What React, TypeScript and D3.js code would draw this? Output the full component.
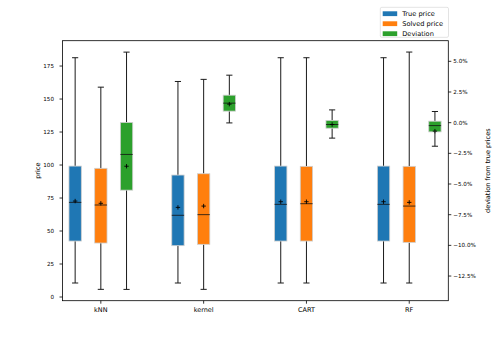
import React from "react";
import * as d3 from "d3";

// box stats per category: [whisker low, q1, median, q3, whisker high, mean]
const categories = ["kNN", "kernel", "CART", "RF"];

const truePrice = [
  [10.6, 42.4, 71.7, 99.2, 181.3, 72.7],
  [10.6, 38.9, 61.9, 92.4, 163.3, 67.9],
  [10.6, 42.4, 70.2, 99.2, 181.3, 72.2],
  [10.6, 42.4, 70.2, 99.2, 181.3, 72.2],
];

const solvedPrice = [
  [5.8, 40.9, 69.7, 97.5, 159.0, 71.0],
  [5.8, 39.9, 62.4, 93.4, 164.9, 68.9],
  [10.6, 42.4, 70.7, 99.0, 181.3, 72.2],
  [10.6, 41.4, 68.9, 99.0, 185.6, 71.7],
];

// deviation in percent (right axis)
const deviation = [
  [-13.59, -5.5, -2.59, 0.02, 5.75, -3.55],
  [-0.02, 0.94, 1.59, 2.24, 3.87, 1.51],
  [-1.26, -0.45, -0.15, 0.18, 1.04, -0.15],
  [-1.92, -0.75, -0.24, 0.12, 0.91, -0.69],
];

const leftTicks = [0, 25, 50, 75, 100, 125, 150, 175];
const rightTicks = [5, 2.5, 0, -2.5, -5, -7.5, -10, -12.5];

const seriesNames = ["True price", "Solved price", "Deviation"];
const colors = ["#1f77b4", "#ff7f0e", "#2ca02c"];

const W = 498, H = 339;
const left = 62.5, right = 448.3, top = 40.7, bottom = 300.7;
const font = "DejaVu Sans";

function Box({ s, cx, y, color, w }: { s: number[]; cx: number; y: d3.ScaleLinear<number, number>; color: string; w: number }) {
  const [lo, q1, med, q3, hi, mean] = s;
  const cap = w / 4;
  const ink = "#1a1a1a";
  return (
    <g>
      <line x1={cx} x2={cx} y1={y(lo)} y2={y(q1)} stroke={ink} strokeWidth={1} />
      <line x1={cx} x2={cx} y1={y(q3)} y2={y(hi)} stroke={ink} strokeWidth={1} />
      <line x1={cx - cap} x2={cx + cap} y1={y(lo)} y2={y(lo)} stroke={ink} strokeWidth={1} />
      <line x1={cx - cap} x2={cx + cap} y1={y(hi)} y2={y(hi)} stroke={ink} strokeWidth={1} />
      <rect x={cx - w / 2} y={y(q3)} width={w} height={y(q1) - y(q3)} fill={color} stroke="#cfcfcf" strokeWidth={0.8} />
      <line x1={cx - w / 2} x2={cx + w / 2} y1={y(med)} y2={y(med)} stroke="#111" strokeWidth={0.8} />
      <line x1={cx - 2.2} x2={cx + 2.2} y1={y(mean)} y2={y(mean)} stroke="#000" strokeWidth={0.9} />
      <line x1={cx} x2={cx} y1={y(mean) - 2.2} y2={y(mean) + 2.2} stroke="#000" strokeWidth={0.9} />
    </g>
  );
}

export default function App() {
  const x = d3.scaleLinear().domain([0.627, 4.38]).range([left, right]);
  const yL = d3.scaleLinear().domain([-2.8, 194.2]).range([bottom, top]);
  const yR = d3.scaleLinear().domain([-14.51, 6.68]).range([bottom, top]);

  const bw = x(1.12) - x(1);
  const pct = (v: number) => (v < 0 ? "\u2212" : "") + d3.format(".1f")(Math.abs(v)) + "%";

  return (
    <svg width={W} height={H} style={{ position: "absolute", left: 0, top: 0 }} fontFamily={font}>
      <rect width={W} height={H} fill="#fff" />

      {categories.map((c, i) => (
        <g key={c}>
          <Box s={truePrice[i]} cx={x(i + 1 - 0.25)} y={yL} color={colors[0]} w={bw} />
          <Box s={solvedPrice[i]} cx={x(i + 1)} y={yL} color={colors[1]} w={bw} />
          <Box s={deviation[i]} cx={x(i + 1 + 0.25)} y={yR} color={colors[2]} w={bw} />
        </g>
      ))}

      <rect x={left} y={top} width={right - left} height={bottom - top} fill="none" stroke="#000" strokeWidth={0.8} />

      {leftTicks.map((t) => (
        <g key={t}>
          <line x1={left - 3} x2={left} y1={yL(t)} y2={yL(t)} stroke="#000" strokeWidth={0.8} />
          <text x={left - 8.5} y={yL(t)} dy="0.35em" textAnchor="end" fontSize={5.6} fill="#000">{t}</text>
        </g>
      ))}
      {rightTicks.map((t) => (
        <g key={t}>
          <line x1={right} x2={right + 3} y1={yR(t)} y2={yR(t)} stroke="#000" strokeWidth={0.8} />
          <text x={right + 5} y={yR(t)} dy="0.35em" textAnchor="start" fontSize={5.6} fill="#000">{pct(t)}</text>
        </g>
      ))}
      {categories.map((c, i) => (
        <g key={c}>
          <line x1={x(i + 1)} x2={x(i + 1)} y1={bottom} y2={bottom + 3} stroke="#000" strokeWidth={0.8} />
          <text x={x(i + 1)} y={bottom + 8.8} dy="0.35em" textAnchor="middle" fontSize={6.5} fill="#000">{c}</text>
        </g>
      ))}

      <text transform={`translate(38,${(top + bottom) / 2}) rotate(-90)`} textAnchor="middle" dy="0.35em" fontSize={6.5}>price</text>
      <text transform={`translate(488,${(top + bottom) / 2}) rotate(-90)`} textAnchor="middle" dy="0.35em" fontSize={6.5}>deviation from true prices</text>

      <g>
        <rect x={380.3} y={7.3} width={68.2} height={30} rx={1.5} fill="#fff" fillOpacity={0.8} stroke="#d0d0d0" strokeWidth={0.6} />
        {seriesNames.map((n, i) => (
          <g key={n}>
            <rect x={382.7} y={13.7 + i * 10 - 2.4} width={14.5} height={4.8} fill={colors[i]} />
            <text x={402.3} y={13.7 + i * 10} dy="0.35em" fontSize={6.6} fill="#000">{n}</text>
          </g>
        ))}
      </g>
    </svg>
  );
}
